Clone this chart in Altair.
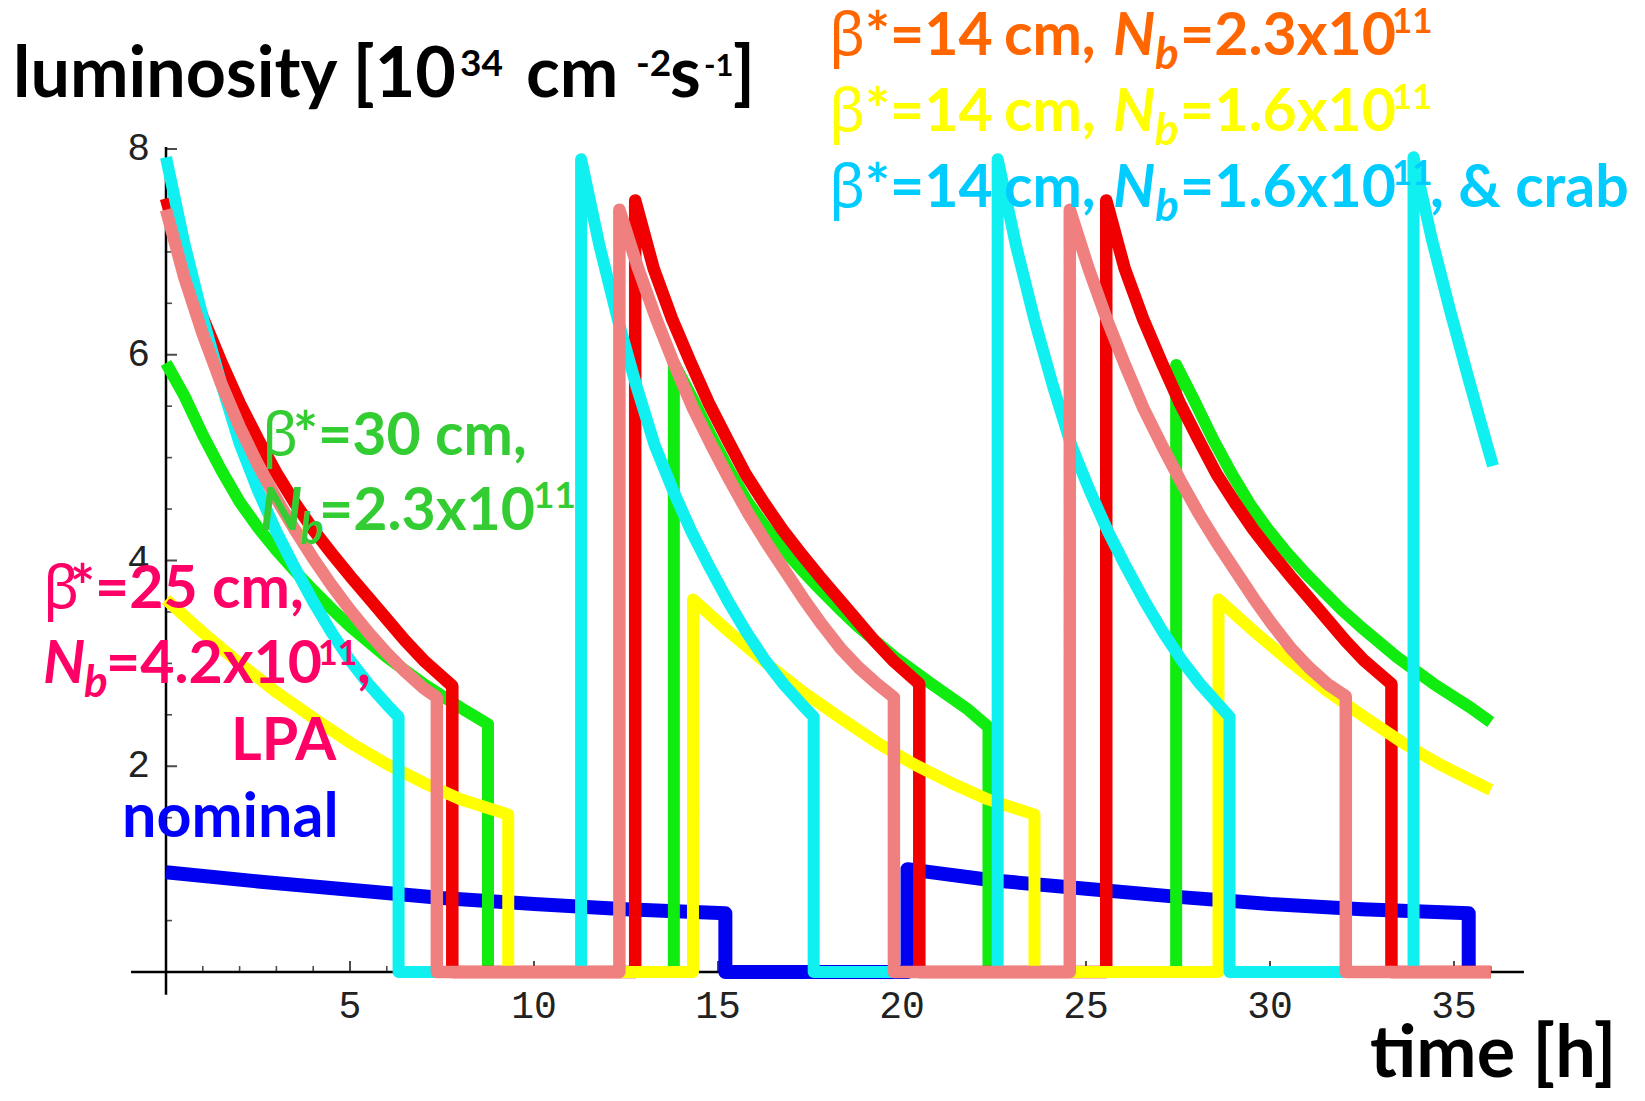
import altair as alt
import pandas as pd

# ---------------- data ----------------
# nominal (blue)
nominal_t = [0.0, 2.5, 5.0, 7.5, 10.0, 12.5, 15.2, 15.2, 20.15, 20.15, 22.5, 25.0, 27.5, 30.0, 32.5, 35.4, 35.4]
nominal_L = [0.97, 0.88, 0.80, 0.72, 0.66, 0.61, 0.57, 0.0, 0.0, 1.00, 0.89, 0.81, 0.73, 0.66, 0.61, 0.57, 0.0]

# beta*=30 cm, Nb=2.3e11 (green)
green_t = [0.0, 0.5, 1.0, 1.5, 2.0, 2.5, 3.0, 3.5, 4.0, 4.5, 5.0, 6.0, 7.0, 8.0, 8.75,
           8.75, 13.8,
           13.8, 14.3, 14.8, 15.3, 15.8, 16.3, 16.8, 17.3, 17.8, 18.3, 18.8, 19.8, 20.8, 21.8, 22.35,
           22.35, 27.45,
           27.45, 27.95, 28.45, 28.95, 29.45, 29.95, 30.45, 30.95, 31.45, 31.95, 32.45, 33.45, 34.45, 35.45, 36.0]
green_L = [5.92, 5.60, 5.22, 4.88, 4.57, 4.32, 4.10, 3.90, 3.71, 3.53, 3.36, 3.06, 2.80, 2.57, 2.41,
           0.0, 0.0,
           5.92, 5.58, 5.22, 4.88, 4.57, 4.32, 4.10, 3.90, 3.71, 3.53, 3.36, 3.06, 2.80, 2.55, 2.38,
           0.0, 0.0,
           5.90, 5.55, 5.18, 4.85, 4.55, 4.30, 4.08, 3.88, 3.70, 3.52, 3.36, 3.06, 2.80, 2.57, 2.43]

# beta*=14 cm, Nb=2.3e11 (red)
red_t = [0.0, 0.5, 1.0, 1.5, 2.0, 2.5, 3.0, 3.5, 4.0, 4.5, 5.0, 5.5, 6.0, 6.5, 7.0, 7.78,
         7.78, 12.75,
         12.75, 13.25, 13.75, 14.25, 14.75, 15.25, 15.75, 16.25, 16.75, 17.25, 17.75, 18.25, 18.75, 19.25, 19.75, 20.47,
         20.47, 25.55,
         25.55, 26.05, 26.55, 27.05, 27.55, 28.05, 28.55, 29.05, 29.55, 30.05, 30.55, 31.05, 31.55, 32.05, 32.55, 33.3,
         33.3, 36.0]
red_L = [7.52, 6.86, 6.36, 5.93, 5.53, 5.18, 4.85, 4.56, 4.30, 4.07, 3.85, 3.64, 3.43, 3.22, 3.03, 2.78,
         0.0, 0.0,
         7.50, 6.84, 6.35, 5.93, 5.53, 5.18, 4.84, 4.56, 4.30, 4.07, 3.85, 3.64, 3.43, 3.22, 3.03, 2.80,
         0.0, 0.0,
         7.50, 6.84, 6.35, 5.93, 5.53, 5.18, 4.84, 4.56, 4.30, 4.07, 3.85, 3.64, 3.43, 3.22, 3.03, 2.80,
         0.0, 0.0]

# beta*=14 cm, Nb=1.6e11 (yellow)
yellow_t = [0.0, 1.0, 2.0, 3.0, 4.0, 5.0, 6.0, 7.0, 8.0, 9.3,
            9.3, 14.32,
            14.32, 15.32, 16.32, 17.32, 18.32, 19.32, 20.32, 21.32, 22.32, 23.6,
            23.6, 28.6,
            28.6, 29.6, 30.6, 31.6, 32.6, 33.6, 34.6, 35.6, 36.0]
yellow_L = [3.62, 3.30, 3.00, 2.72, 2.47, 2.23, 2.02, 1.84, 1.68, 1.53,
            0.0, 0.0,
            3.62, 3.30, 3.00, 2.72, 2.47, 2.23, 2.02, 1.84, 1.68, 1.53,
            0.0, 0.0,
            3.62, 3.30, 3.00, 2.72, 2.47, 2.23, 2.02, 1.84, 1.77]

# beta*=14 cm, Nb=1.6e11 & crab (cyan)
cyan_t = [0.0, 0.5, 1.0, 1.5, 2.0, 2.5, 3.0, 3.5, 4.0, 4.5, 5.0, 5.5, 6.0, 6.32,
          6.32, 11.28,
          11.28, 11.78, 12.28, 12.78, 13.28, 13.78, 14.28, 14.78, 15.28, 15.78, 16.28, 16.78, 17.28, 17.6,
          17.6, 22.6,
          22.6, 23.1, 23.6, 24.1, 24.6, 25.1, 25.6, 26.1, 26.6, 27.1, 27.6, 28.1, 28.6, 28.9,
          28.9, 33.9,
          33.9, 34.4, 34.9, 35.4, 35.9, 36.06]
cyan_L = [7.92, 7.08, 6.36, 5.72, 5.14, 4.68, 4.28, 3.93, 3.60, 3.30, 3.03, 2.80, 2.60, 2.48,
          0.0, 0.0,
          7.90, 7.06, 6.34, 5.70, 5.12, 4.68, 4.28, 3.93, 3.60, 3.30, 3.03, 2.80, 2.60, 2.48,
          0.0, 0.0,
          7.90, 7.06, 6.34, 5.70, 5.12, 4.68, 4.28, 3.93, 3.60, 3.30, 3.03, 2.80, 2.60, 2.48,
          0.0, 0.0,
          7.92, 7.12, 6.42, 5.76, 5.12, 4.92]

# beta*=25 cm, Nb=4.2e11, LPA (salmon)
pink_t = [0.0, 0.5, 1.0, 1.5, 2.0, 2.5, 3.0, 3.5, 4.0, 4.5, 5.0, 5.5, 6.0, 6.5, 7.0, 7.36,
          7.36, 12.32,
          12.32, 12.82, 13.32, 13.82, 14.32, 14.82, 15.32, 15.82, 16.32, 16.82, 17.32, 17.82, 18.32, 18.82, 19.32, 19.78,
          19.78, 24.56,
          24.56, 25.06, 25.56, 26.06, 26.56, 27.06, 27.56, 28.06, 28.56, 29.06, 29.56, 30.06, 30.56, 31.06, 31.56, 32.06,
          32.06, 36.0]
pink_L = [7.41, 6.75, 6.20, 5.72, 5.30, 4.93, 4.60, 4.30, 4.02, 3.76, 3.52, 3.30, 3.10, 2.92, 2.76, 2.67,
          0.0, 0.0,
          7.41, 6.85, 6.35, 5.90, 5.48, 5.12, 4.78, 4.46, 4.17, 3.90, 3.63, 3.38, 3.15, 2.96, 2.80, 2.67,
          0.0, 0.0,
          7.41, 6.85, 6.35, 5.90, 5.48, 5.12, 4.78, 4.46, 4.17, 3.90, 3.63, 3.38, 3.15, 2.96, 2.80, 2.68,
          0.0, 0.0]

# axes and ticks
x_axis_range = [-0.95, 36.9]
y_axis_range = [-0.22, 8.02]
x_major = [5, 10, 15, 20, 25, 30, 35]
x_major_labels = ["5", "10", "15", "20", "25", "30", "35"]
x_minor = [1, 2, 3, 4, 6, 7, 8, 9, 11, 12, 13, 14, 16, 17, 18, 19, 21, 22, 23, 24,
           26, 27, 28, 29, 31, 32, 33, 34, 36]
y_major = [2, 4, 6, 8]
y_major_labels = ["2", "4", "6", "8"]
y_minor = [0.5, 1, 1.5, 2.5, 3, 3.5, 4.5, 5, 5.5, 6.5, 7, 7.5]

# ---------------- layout ----------------
W, H = 1629, 1085
PX_T0, PX_T35 = 166, 1454     # page pixels of t=0 and t=35
PY_L0, PY_L8 = 972, 149       # page pixels of L=0 and L=8
px_per_t = (PX_T35 - PX_T0) / 35.0
x_lo = -(PX_T0 - 8) / px_per_t
x_hi = x_lo + W / px_per_t
px_per_L = (PY_L0 - PY_L8) / 8.0
y_hi = (PY_L0 - 8) / px_per_L
y_lo = y_hi - H / px_per_L
xs = alt.Scale(domain=[x_lo, x_hi], nice=False, zero=False)
ys = alt.Scale(domain=[y_lo, y_hi], nice=False, zero=False)

SANS = "Lato"
GREEK = "Noto Sans"
MONO = "Liberation Mono"
LS = 59     # label font size
SUP = 35    # superscript size
SUB = 44    # subscript size


def series(t, L, color, width):
    df = pd.DataFrame({"t": t, "L": L, "i": list(range(len(t)))})
    return alt.Chart(df).mark_line(color=color, strokeWidth=width, strokeJoin="round",
                                   strokeCap="butt").encode(
        x=alt.X("t:Q", scale=xs, axis=None),
        y=alt.Y("L:Q", scale=ys, axis=None),
        order="i:Q")


one = pd.DataFrame({"k": [0]})


def txt(s, x, y, size, color, weight="bold", style="normal", font=SANS):
    return alt.Chart(one).mark_text(text=s, font=font, fontSize=size, fontWeight=weight,
                                    fontStyle=style, color=color, align="left",
                                    baseline="alphabetic").encode(
        x=alt.value(x - 8), y=alt.value(y - 8))


layers = []

# axes lines
layers.append(alt.Chart(pd.DataFrame({"a": [x_axis_range[0]], "b": [x_axis_range[1]], "y": [0.0]}))
              .mark_rule(color="black", strokeWidth=2.5)
              .encode(x=alt.X("a:Q", scale=xs, axis=None), x2="b:Q", y=alt.Y("y:Q", scale=ys, axis=None)))
layers.append(alt.Chart(pd.DataFrame({"a": [y_axis_range[0]], "b": [y_axis_range[1]], "x": [0.0]}))
              .mark_rule(color="black", strokeWidth=2.5)
              .encode(y=alt.Y("a:Q", scale=ys, axis=None), y2="b:Q", x=alt.X("x:Q", scale=xs, axis=None)))

# ticks
layers.append(alt.Chart(pd.DataFrame({"t": x_major, "y": [0.0] * len(x_major)}))
              .mark_tick(orient="vertical", size=11, thickness=2, color="black", yOffset=-5.5)
              .encode(x=alt.X("t:Q", scale=xs, axis=None), y=alt.Y("y:Q", scale=ys, axis=None)))
layers.append(alt.Chart(pd.DataFrame({"t": x_minor, "y": [0.0] * len(x_minor)}))
              .mark_tick(orient="vertical", size=6, thickness=1.6, color="black", yOffset=-3)
              .encode(x=alt.X("t:Q", scale=xs, axis=None), y=alt.Y("y:Q", scale=ys, axis=None)))
layers.append(alt.Chart(pd.DataFrame({"v": y_major, "x": [0.0] * len(y_major)}))
              .mark_tick(orient="horizontal", size=11, thickness=2, color="black", xOffset=5.5)
              .encode(y=alt.Y("v:Q", scale=ys, axis=None), x=alt.X("x:Q", scale=xs, axis=None)))
layers.append(alt.Chart(pd.DataFrame({"v": y_minor, "x": [0.0] * len(y_minor)}))
              .mark_tick(orient="horizontal", size=6, thickness=1.6, color="black", xOffset=3)
              .encode(y=alt.Y("v:Q", scale=ys, axis=None), x=alt.X("x:Q", scale=xs, axis=None)))

# tick labels
layers.append(alt.Chart(pd.DataFrame({"t": x_major, "lab": x_major_labels, "y": [0.0] * len(x_major)}))
              .mark_text(font=MONO, fontSize=38, color="#222222", align="center", baseline="middle", dy=35)
              .encode(x=alt.X("t:Q", scale=xs, axis=None), y=alt.Y("y:Q", scale=ys, axis=None), text="lab:N"))
layers.append(alt.Chart(pd.DataFrame({"v": y_major, "lab": y_major_labels, "x": [0.0] * len(y_major)}))
              .mark_text(font=MONO, fontSize=38, color="#222222", align="right", baseline="middle", dx=-16)
              .encode(y=alt.Y("v:Q", scale=ys, axis=None), x=alt.X("x:Q", scale=xs, axis=None), text="lab:N"))

# curves (drawing order as in the reference)
layers.append(series(nominal_t, nominal_L, "#0000F0", 14))
layers.append(series(green_t, green_L, "#10EC10", 12))
layers.append(series(red_t, red_L, "#F00000", 12.5))
layers.append(series(yellow_t, yellow_L, "#FFFF00", 12))
layers.append(series(cyan_t, cyan_L, "#10F0F0", 12))
layers.append(series(pink_t, pink_L, "#F08080", 12.5))

# title / axis label texts
BLACK = "#000000"
layers += [
    txt("luminosity [10", 13, 97, 70, BLACK),
    txt("34", 460, 76, 37, BLACK),
    txt("cm", 526, 97, 70, BLACK),
    txt("-2", 636, 76, 37, BLACK),
    txt("s", 670, 97, 70, BLACK),
    txt("-1", 704, 76, 31, BLACK),
    txt("]", 733, 97, 70, BLACK),
    txt("time [h]", 1370, 1077, 72, BLACK),
]

# legend lines top right
ORANGE, YEL, CYT = "#FF6600", "#FFFF00", "#00CCFF"
for base, col, val in [(55, ORANGE, "=2.3x10"), (131, YEL, "=1.6x10"), (207, CYT, "=1.6x10")]:
    layers += [
        txt("β", 829, base, LS, col, weight="normal", font=GREEK),
        txt("*=14", 865, base, LS, col),
        txt("cm,", 1004, base, LS, col),
        txt("N", 1113, base, LS, col, style="italic"),
        txt("b", 1155, base + 14, SUB, col, style="italic"),
        txt(val, 1180, base, LS, col),
        txt("11", 1392, base - 22, SUP, col),
    ]
layers.append(txt(", & crab", 1430, 207, LS, CYT))

# green label
GR = "#33CC33"
layers += [
    txt("β", 262, 455, LS, GR, weight="normal", font=GREEK),
    txt("*=30 cm,", 293, 455, LS, GR),
    txt("N", 260, 530, LS, GR, style="italic"),
    txt("b", 300, 544, SUB, GR, style="italic"),
    txt("=2.3x10", 319, 530, LS, GR),
    txt("11", 533, 508, SUP + 2, GR),
]

# pink label
PK = "#FF0066"
layers += [
    txt("β", 43, 608, LS, PK, weight="normal", font=GREEK),
    txt("*=25 cm,", 70, 608, LS, PK),
    txt("N", 43, 683, LS, PK, style="italic"),
    txt("b", 84, 697, SUB, PK, style="italic"),
    txt("=4.2x10", 106, 683, LS, PK),
    txt("11", 318, 665, SUP - 1, PK),
    txt(",", 357, 683, LS, PK),
    txt("LPA", 231, 760, LS, PK),
]

# nominal label
layers.append(txt("nominal", 122, 837, LS + 2, "#0000FF"))

chart = alt.layer(*layers).properties(
    width=W, height=H, padding=0,
    autosize=alt.AutoSizeParams(type="none"),
    background="white",
).configure_view(stroke=None)

chart.save("out.html", embed_options={"renderer": "svg", "actions": False})
